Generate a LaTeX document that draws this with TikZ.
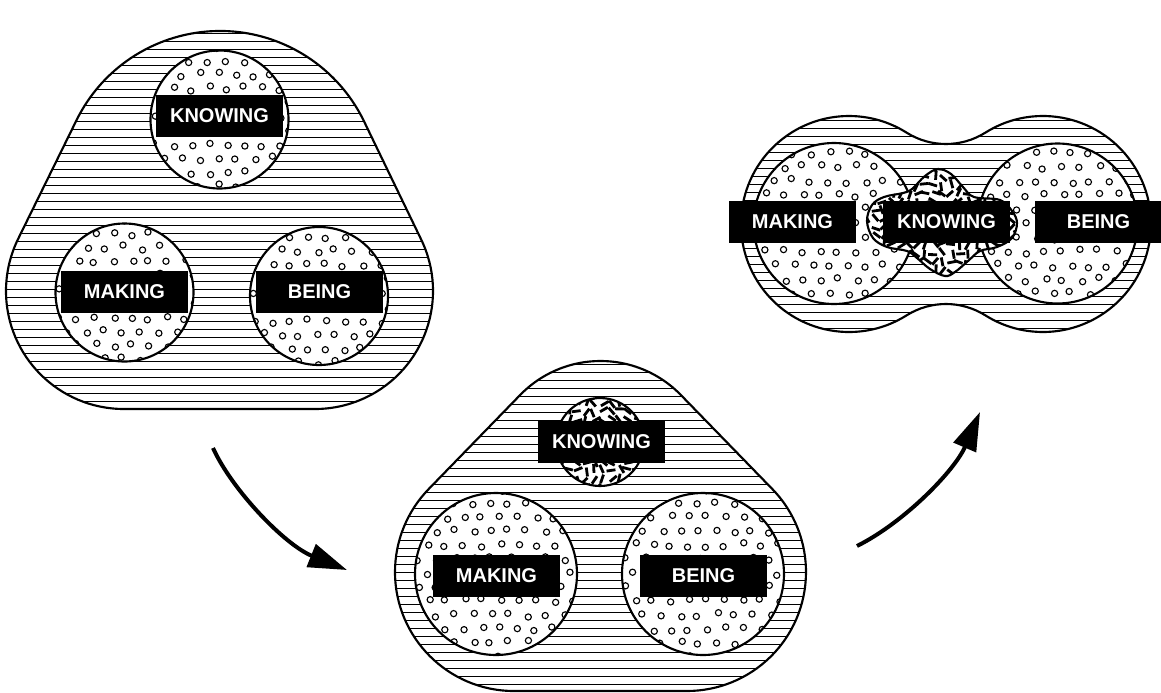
\documentclass[tikz,border=0pt]{standalone}
\usepackage{fontspec}
\setmainfont{Liberation Sans}
\usetikzlibrary{calc,arrows.meta}
\newcommand\edgeang[7]{%
  \pgfmathsetmacro\tdx{((#5)-(#2))/10}%
  \pgfmathsetmacro\tdy{((#6)-(#3))/10}%
  \pgfmathsetmacro\tL{10*sqrt(\tdx*\tdx+\tdy*\tdy)}%
  \pgfmathsetmacro#1{atan2(\tdy,\tdx)-acos(((#4)-(#7))/\tL)}%
}
\newcommand\makehull[9]{%
  \edgeang\hA{#1}{#2}{#3}{#4}{#5}{#6}%
  \edgeang\hB{#4}{#5}{#6}{#7}{#8}{#9}%
  \edgeang\hC{#7}{#8}{#9}{#1}{#2}{#3}%
  \pgfmathsetmacro\hAx{\hC+mod(\hA-\hC+720,360)}%
  \pgfmathsetmacro\hBx{\hA+mod(\hB-\hA+720,360)}%
  \pgfmathsetmacro\hCx{\hB+mod(\hC-\hB+720,360)}%
  \xdef\hullpath{($(#1,#2)+(\hC:#3)$) arc[start angle=\hC,end angle=\hAx,radius=#3] -- ($(#4,#5)+(\hA:#6)$) arc[start angle=\hA,end angle=\hBx,radius=#6] -- ($(#7,#8)+(\hB:#9)$) arc[start angle=\hB,end angle=\hCx,radius=#9] -- cycle}%
}
\newcommand\dotcircle[3]{%
  \fill[white] (#1,#2) circle[radius=#3];
  \begin{scope}
    \clip (#1,#2) circle[radius=#3];
    \pgfmathtruncatemacro\ncols{(2*#3+10)/18+1}
    \pgfmathtruncatemacro\nrows{(2*#3+10)/14+1}
    \foreach \i in {0,...,\nrows}{
      \foreach \j in {0,...,\ncols}{
        \pgfmathsetmacro\px{#1-#3-5+\j*18+mod(\i,2)*9+2.5*rand}
        \pgfmathsetmacro\py{#2-#3-4+\i*14+2.5*rand}
        \draw[dotst] (\px,\py) circle[radius=3.1];
      }
    }
  \end{scope}
  \draw[outline] (#1,#2) circle[radius=#3];
}
\newcommand\dashfield[4]{%
  \foreach \i in {0,...,#4}{
    \foreach \j in {0,...,#3}{
      \pgfmathsetmacro\px{#1+\j*8.5+2.2*rand}
      \pgfmathsetmacro\py{#2+\i*8.5+2.2*rand}
      \pgfmathsetmacro\pa{90*rand}
      \pgfmathsetmacro\pb{\pa+180}
      \draw[dashst] (\px,\py) ++(\pa:4.5) -- ++(\pb:9);
    }
  }
}
\begin{document}
\begin{tikzpicture}[x=0.75pt,y=-0.75pt,
  outline/.style={line width=1.6pt},
  hatch/.style={line width=0.75pt},
  dotst/.style={line width=0.85pt},
  dashst/.style={line width=2.1pt},
  lbl/.style={fill=black,text=white,font=\fontsize{15}{15}\selectfont\bfseries,
    minimum width=95.25pt,minimum height=31.5pt,inner sep=0pt},
  flow/.style={line width=3pt,-{Triangle[length=29pt,width=18pt]}}]
\useasboundingbox (0,0) rectangle (1161,693);
\pgfmathsetseed{7}

% ---------- diagram 1 ----------
\makehull{220}{191}{160}{315}{291}{118}{124}{291}{118}
\fill[white] \hullpath;
\begin{scope}
  \clip \hullpath;
  \foreach \yy in {33,41,...,409} \draw[hatch] (0,\yy) -- (440,\yy);
\end{scope}
\draw[outline] \hullpath;
\dotcircle{219.5}{119.5}{69}
\dotcircle{124.5}{292.5}{69}
\dotcircle{319}{296}{69}
\node[lbl] (k1) at (219.5,116) {KNOWING};
\node[lbl] (m1) at (124.5,292) {MAKING};
\node[lbl] (b1) at (319.5,292) {BEING};

% ---------- diagram 2 ----------
\makehull{600.5}{473}{112}{687}{572}{119}{514}{572}{119}
\fill[white] \hullpath;
\begin{scope}
  \clip \hullpath;
  \foreach \yy in {364,372,...,692} \draw[hatch] (380,\yy) -- (820,\yy);
\end{scope}
\draw[outline] \hullpath;
\fill[white] (600,442) circle[radius=44];
\begin{scope}
  \clip (600,442) circle[radius=44];
  \dashfield{552}{394}{11}{11}
\end{scope}
\draw[outline] (600,442) circle[radius=44];
\dotcircle{496}{574}{81}
\dotcircle{703}{574}{81}
\node[lbl] (k2) at (601.5,442) {KNOWING};
\node[lbl] (m2) at (496.5,575.5) {MAKING};
\node[lbl] (b2) at (703.5,575.5) {BEING};

% ---------- diagram 3 ----------
\def\peanut{($(849,224)+(57.8:108)$) arc[start angle=57.8,end angle=302.2,radius=108]
  arc[start angle=122.2,end angle=57.8,radius=74]
  arc[start angle=237.8,end angle=482.2,radius=108]
  arc[start angle=-57.8,end angle=-122.2,radius=74] -- cycle}
\fill[white] \peanut;
\begin{scope}
  \clip \peanut;
  \foreach \yy in {112,120,...,336} \draw[hatch] (730,\yy) -- (1161,\yy);
\end{scope}
\draw[outline] \peanut;
\dotcircle{834}{223.5}{80.5}
\dotcircle{1057.5}{223.5}{80}
\def\blob{plot[smooth cycle,tension=0.6] coordinates {
  (912,189) (925,176) (938,169) (951,174) (963,187) (974,197)
  (1000,200) (1012,211) (1017,223) (1012,238) (997,247) (980,251)
  (968,261) (955,272) (945,276) (930,269) (917,258) (907,251)
  (887,247) (873,238) (867,221) (872,205) (884,197) (903,193)}}
\fill[white] \blob;
\begin{scope}
  \clip \blob;
  \dashfield{858}{160}{19}{14}
\end{scope}
\draw[outline] \blob;
\node[lbl] (m3) at (792.5,222) {MAKING};
\node[lbl] (k3) at (946.5,222) {KNOWING};
\node[lbl] (b3) at (1098.5,222) {BEING};

% ---------- arrows ----------
\coordinate (a1s) at (213,448);
\coordinate (a1e) at (347,570);
\draw[flow] (a1s) .. controls (232,490) and (285,545) .. (a1e);
\coordinate (a2s) at (857,546);
\coordinate (a2e) at (980,412);
\draw[flow] (a2s) .. controls (905,522) and (955,470) .. (a2e);
\end{tikzpicture}
\end{document}
